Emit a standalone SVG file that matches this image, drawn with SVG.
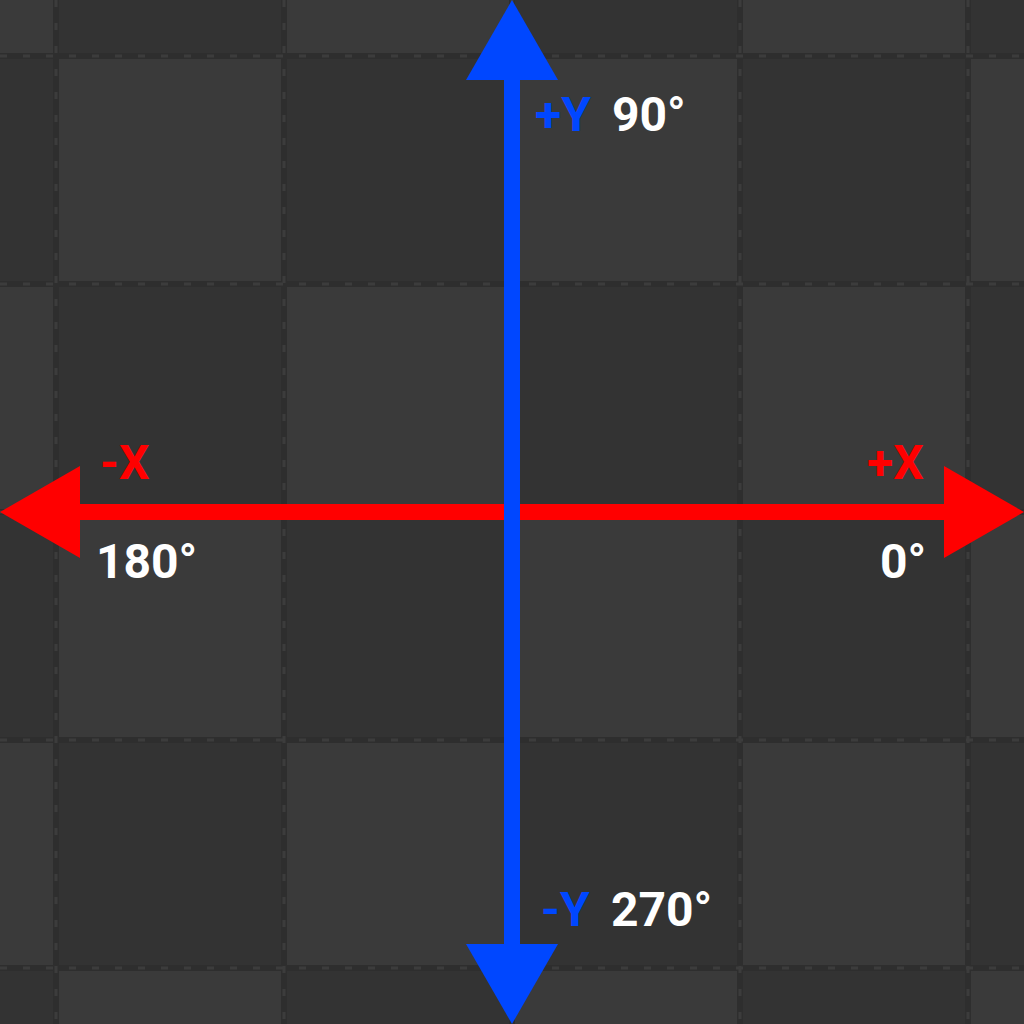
<svg xmlns="http://www.w3.org/2000/svg" width="1024" height="1024" viewBox="0 0 1024 1024">
<style>
.seam{stroke:#2e2e2e;stroke-width:6;fill:none}
.teeth{stroke:#3c3c3c;stroke-width:3;stroke-dasharray:7 16;fill:none}
.lbl{font-family:Roboto,"Liberation Sans",sans-serif;font-weight:bold;font-size:48px}
.red{fill:#ff0000}
.blue{fill:#0047ff}
.white{fill:#ffffff}
</style>
<defs>
<pattern id="checker" x="-172" y="-172" width="456" height="456" patternUnits="userSpaceOnUse">
<rect x="0" y="0" width="228" height="228" fill="#3a3a3a"/>
<rect x="228" y="0" width="228" height="228" fill="#333333"/>
<rect x="0" y="228" width="228" height="228" fill="#333333"/>
<rect x="228" y="228" width="228" height="228" fill="#3a3a3a"/>
</pattern>
</defs>
<g id="background">
<rect x="0" y="0" width="1024" height="1024" fill="url(#checker)"/>
<g class="seam">
<path d="M56 0V1024M284 0V1024M512 0V1024M740 0V1024M968 0V1024"/>
<path d="M0 56H1024M0 284H1024M0 512H1024M0 740H1024M0 968H1024"/>
</g>
<g class="teeth">
<path d="M56 0V1024M284 0V1024M512 0V1024M740 0V1024M968 0V1024"/>
<path d="M0 56H1024M0 284H1024M0 512H1024M0 740H1024M0 968H1024"/>
</g>
</g>
<g id="connectors">
<g id="x-axis" class="red">
<rect x="78" y="504" width="868" height="16"/>
<polygon points="0,512 80,466 80,558"/>
<polygon points="1024,512 944,466 944,558"/>
</g>
<g id="y-axis" class="blue">
<rect x="504" y="78" width="16" height="868"/>
<polygon points="512,0 466,80 558,80"/>
<polygon points="512,1024 466,944 558,944"/>
</g>
</g>
<g id="label-plus-y">
<text class="lbl blue" x="535" y="131">+Y</text>
<text class="lbl white" x="612" y="131">90°</text>
</g>
<g id="label-minus-y">
<text class="lbl blue" x="541" y="926">-Y</text>
<text class="lbl white" x="611" y="926">270°</text>
</g>
<g id="label-minus-x">
<text class="lbl red" x="100" y="479">-X</text>
<text class="lbl white" x="96" y="578">180°</text>
</g>
<g id="label-plus-x">
<text class="lbl red" x="867" y="479">+X</text>
<text class="lbl white" x="880" y="578">0°</text>
</g>
</svg>
